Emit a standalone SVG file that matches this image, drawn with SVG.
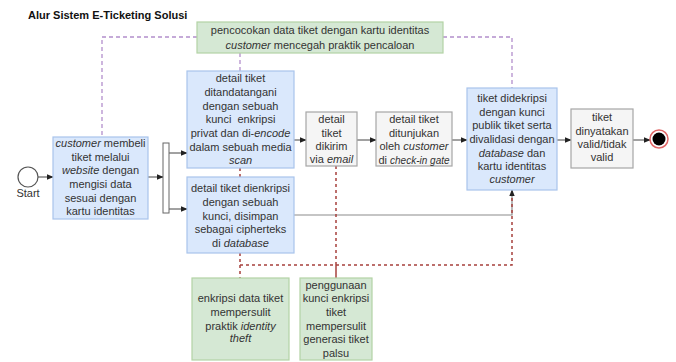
<svg xmlns="http://www.w3.org/2000/svg" width="676" height="362" viewBox="0 0 676 362">
  <defs>
    <marker id="arr" viewBox="0 0 10 10" refX="9" refY="5" markerWidth="7" markerHeight="7" orient="auto" markerUnits="userSpaceOnUse">
      <path d="M0,1 L10,5 L0,9 Z" fill="#222"/>
    </marker>
    <style>
      text { font-family: "Liberation Sans", Arial, sans-serif; font-size: 11px; fill: #333; text-anchor: middle; }
      .title { font-weight: bold; font-size: 11px; fill: #111; text-anchor: start; }
      .it { font-style: italic; }
      .sm { font-size: 10px; }
      .blue { fill: #dae8fc; stroke: #a9c4eb; stroke-width: 1.2; }
      .gray { fill: #f5f5f5; stroke: #a6a6a6; stroke-width: 1.2; }
      .green { fill: #d5e8d4; stroke: #b3d3a5; stroke-width: 1.2; }
      .flow { fill: none; stroke: #444; stroke-width: 1; marker-end: url(#arr); }
      .line { fill: none; stroke: #8c8c8c; stroke-width: 1.2; }
      .assocP { fill: none; stroke: #b38fcc; stroke-width: 1.3; stroke-dasharray: 4 3; }
      .assocR { fill: none; stroke: #a6403d; stroke-width: 1.5; stroke-dasharray: 3 3; }
    </style>
  </defs>

  <text class="title" x="28" y="19">Alur Sistem E-Ticketing Solusi</text>

  <!-- connectors -->
  <g id="connectors">
    <line class="flow" x1="38" y1="177" x2="53" y2="177"/>
    <line class="flow" x1="148" y1="177" x2="163" y2="177"/>
    <line class="flow" x1="169" y1="153" x2="187" y2="153"/>
    <line class="flow" x1="169" y1="209" x2="187" y2="209"/>
    <line class="flow" x1="294" y1="140" x2="306" y2="140"/>
    <line class="flow" x1="357" y1="140" x2="376" y2="140"/>
    <line class="flow" x1="452" y1="140" x2="467" y2="140"/>
    <line class="flow" x1="557" y1="140" x2="571" y2="140"/>
    <line class="flow" x1="633" y1="140" x2="650" y2="140"/>
    <path class="line" d="M294,215 H512 V192"/>
    <!-- purple associations -->
    <path class="assocP" d="M197,37 H102 V137"/>
    <path class="assocP" d="M240,53 V71"/>
    <path class="assocP" d="M443,37 H512 V88"/>
    <!-- red associations -->
    <path class="assocR" d="M240,168 V177"/>
    <path class="assocR" d="M240,253 V278"/>
    <path class="assocR" d="M240,265 H512 V192"/>
    <path class="assocR" d="M336,166 V265"/>
    <line x1="336" y1="265" x2="336" y2="278" stroke="#a6403d" stroke-width="1.5"/>
    <line class="flow" x1="512" y1="196" x2="512" y2="190"/>
  </g>

  <!-- start event -->
  <g id="start">
    <circle cx="28" cy="177" r="10" fill="#fff" stroke="#555" stroke-width="1.2"/>
    <text x="28" y="197">Start</text>
  </g>

  <!-- annotation: ticket data matching -->
  <g id="note-matching">
    <rect class="green" x="197" y="22" width="246" height="31"/>
    <text x="320" y="34">pencocokan data tiket dengan kartu identitas</text>
    <text x="320" y="49"><tspan class="it">customer</tspan> mencegah praktik pencaloan</text>
  </g>

  <g id="buy">
    <rect class="blue" x="53" y="137" width="95" height="82"/>
    <text x="100.5" y="147"><tspan class="it">customer</tspan> membeli</text>
    <text x="100.5" y="161">tiket melalui</text>
    <text x="100.5" y="174"><tspan class="it">website</tspan> dengan</text>
    <text x="100.5" y="188">mengisi data</text>
    <text x="100.5" y="202">sesuai dengan</text>
    <text x="100.5" y="215">kartu identitas</text>
  </g>

  <g id="fork">
    <rect x="163" y="143" width="6" height="70" fill="#fff" stroke="#666" stroke-width="1"/>
  </g>

  <g id="sign">
    <rect class="blue" x="187" y="71" width="107" height="97"/>
    <text x="240.5" y="82">detail tiket</text>
    <text x="240.5" y="96">ditandatangani</text>
    <text x="240.5" y="110">dengan sebuah</text>
    <text x="240.5" y="123" xml:space="preserve">kunci  enkripsi</text>
    <text x="240.5" y="137">privat dan di-<tspan class="it">encode</tspan></text>
    <text x="240.5" y="151">dalam sebuah media</text>
    <text x="240.5" y="164" class="it">scan</text>
  </g>

  <g id="encrypt">
    <rect class="blue" x="187" y="177" width="107" height="76"/>
    <text x="240.5" y="192">detail tiket dienkripsi</text>
    <text x="240.5" y="206">dengan sebuah</text>
    <text x="240.5" y="220">kunci, disimpan</text>
    <text x="240.5" y="233">sebagai cipherteks</text>
    <text x="240.5" y="247">di <tspan class="it">database</tspan></text>
  </g>

  <g id="email">
    <rect class="gray" x="306" y="112" width="51" height="54"/>
    <text x="331.5" y="123">detail</text>
    <text x="331.5" y="137">tiket</text>
    <text x="331.5" y="150">dikirim</text>
    <text x="331.5" y="163">via <tspan class="it">email</tspan></text>
  </g>

  <g id="gate">
    <rect class="gray" x="376" y="112" width="76" height="54"/>
    <text x="414" y="123">detail tiket</text>
    <text x="414" y="137">ditunjukan</text>
    <text x="414" y="150">oleh <tspan class="it">customer</tspan></text>
    <text x="414" y="164">di <tspan class="it sm">check-in gate</tspan></text>
  </g>

  <g id="decrypt">
    <rect class="blue" x="467" y="88" width="90" height="102"/>
    <text x="512" y="102">tiket didekripsi</text>
    <text x="512" y="116">dengan kunci</text>
    <text x="512" y="129">publik tiket serta</text>
    <text x="512" y="143">divalidasi dengan</text>
    <text x="512" y="157"><tspan class="it">database</tspan> dan</text>
    <text x="512" y="170">kartu identitas</text>
    <text x="512" y="183" class="it">customer</text>
  </g>

  <g id="valid">
    <rect class="gray" x="571" y="109" width="62" height="59"/>
    <text x="602" y="121">tiket</text>
    <text x="602" y="135">dinyatakan</text>
    <text x="602" y="148">valid/tidak</text>
    <text x="602" y="161">valid</text>
  </g>

  <g id="end">
    <circle cx="659" cy="139" r="9" fill="#fff" stroke="#e06666" stroke-width="1.5"/>
    <circle cx="659" cy="139" r="6.5" fill="#000"/>
  </g>

  <g id="note-identity">
    <rect class="green" x="192" y="278" width="97" height="82"/>
    <text x="240.5" y="302">enkripsi data tiket</text>
    <text x="240.5" y="316">mempersulit</text>
    <text x="240.5" y="330">praktik <tspan class="it">identity</tspan></text>
    <text x="240.5" y="342" class="it">theft</text>
  </g>

  <g id="note-keys">
    <rect class="green" x="300" y="278" width="72" height="82"/>
    <text x="336" y="289">penggunaan</text>
    <text x="336" y="302">kunci enkripsi</text>
    <text x="336" y="316">tiket</text>
    <text x="336" y="330">mempersulit</text>
    <text x="336" y="343">generasi tiket</text>
    <text x="336" y="357">palsu</text>
  </g>
</svg>
